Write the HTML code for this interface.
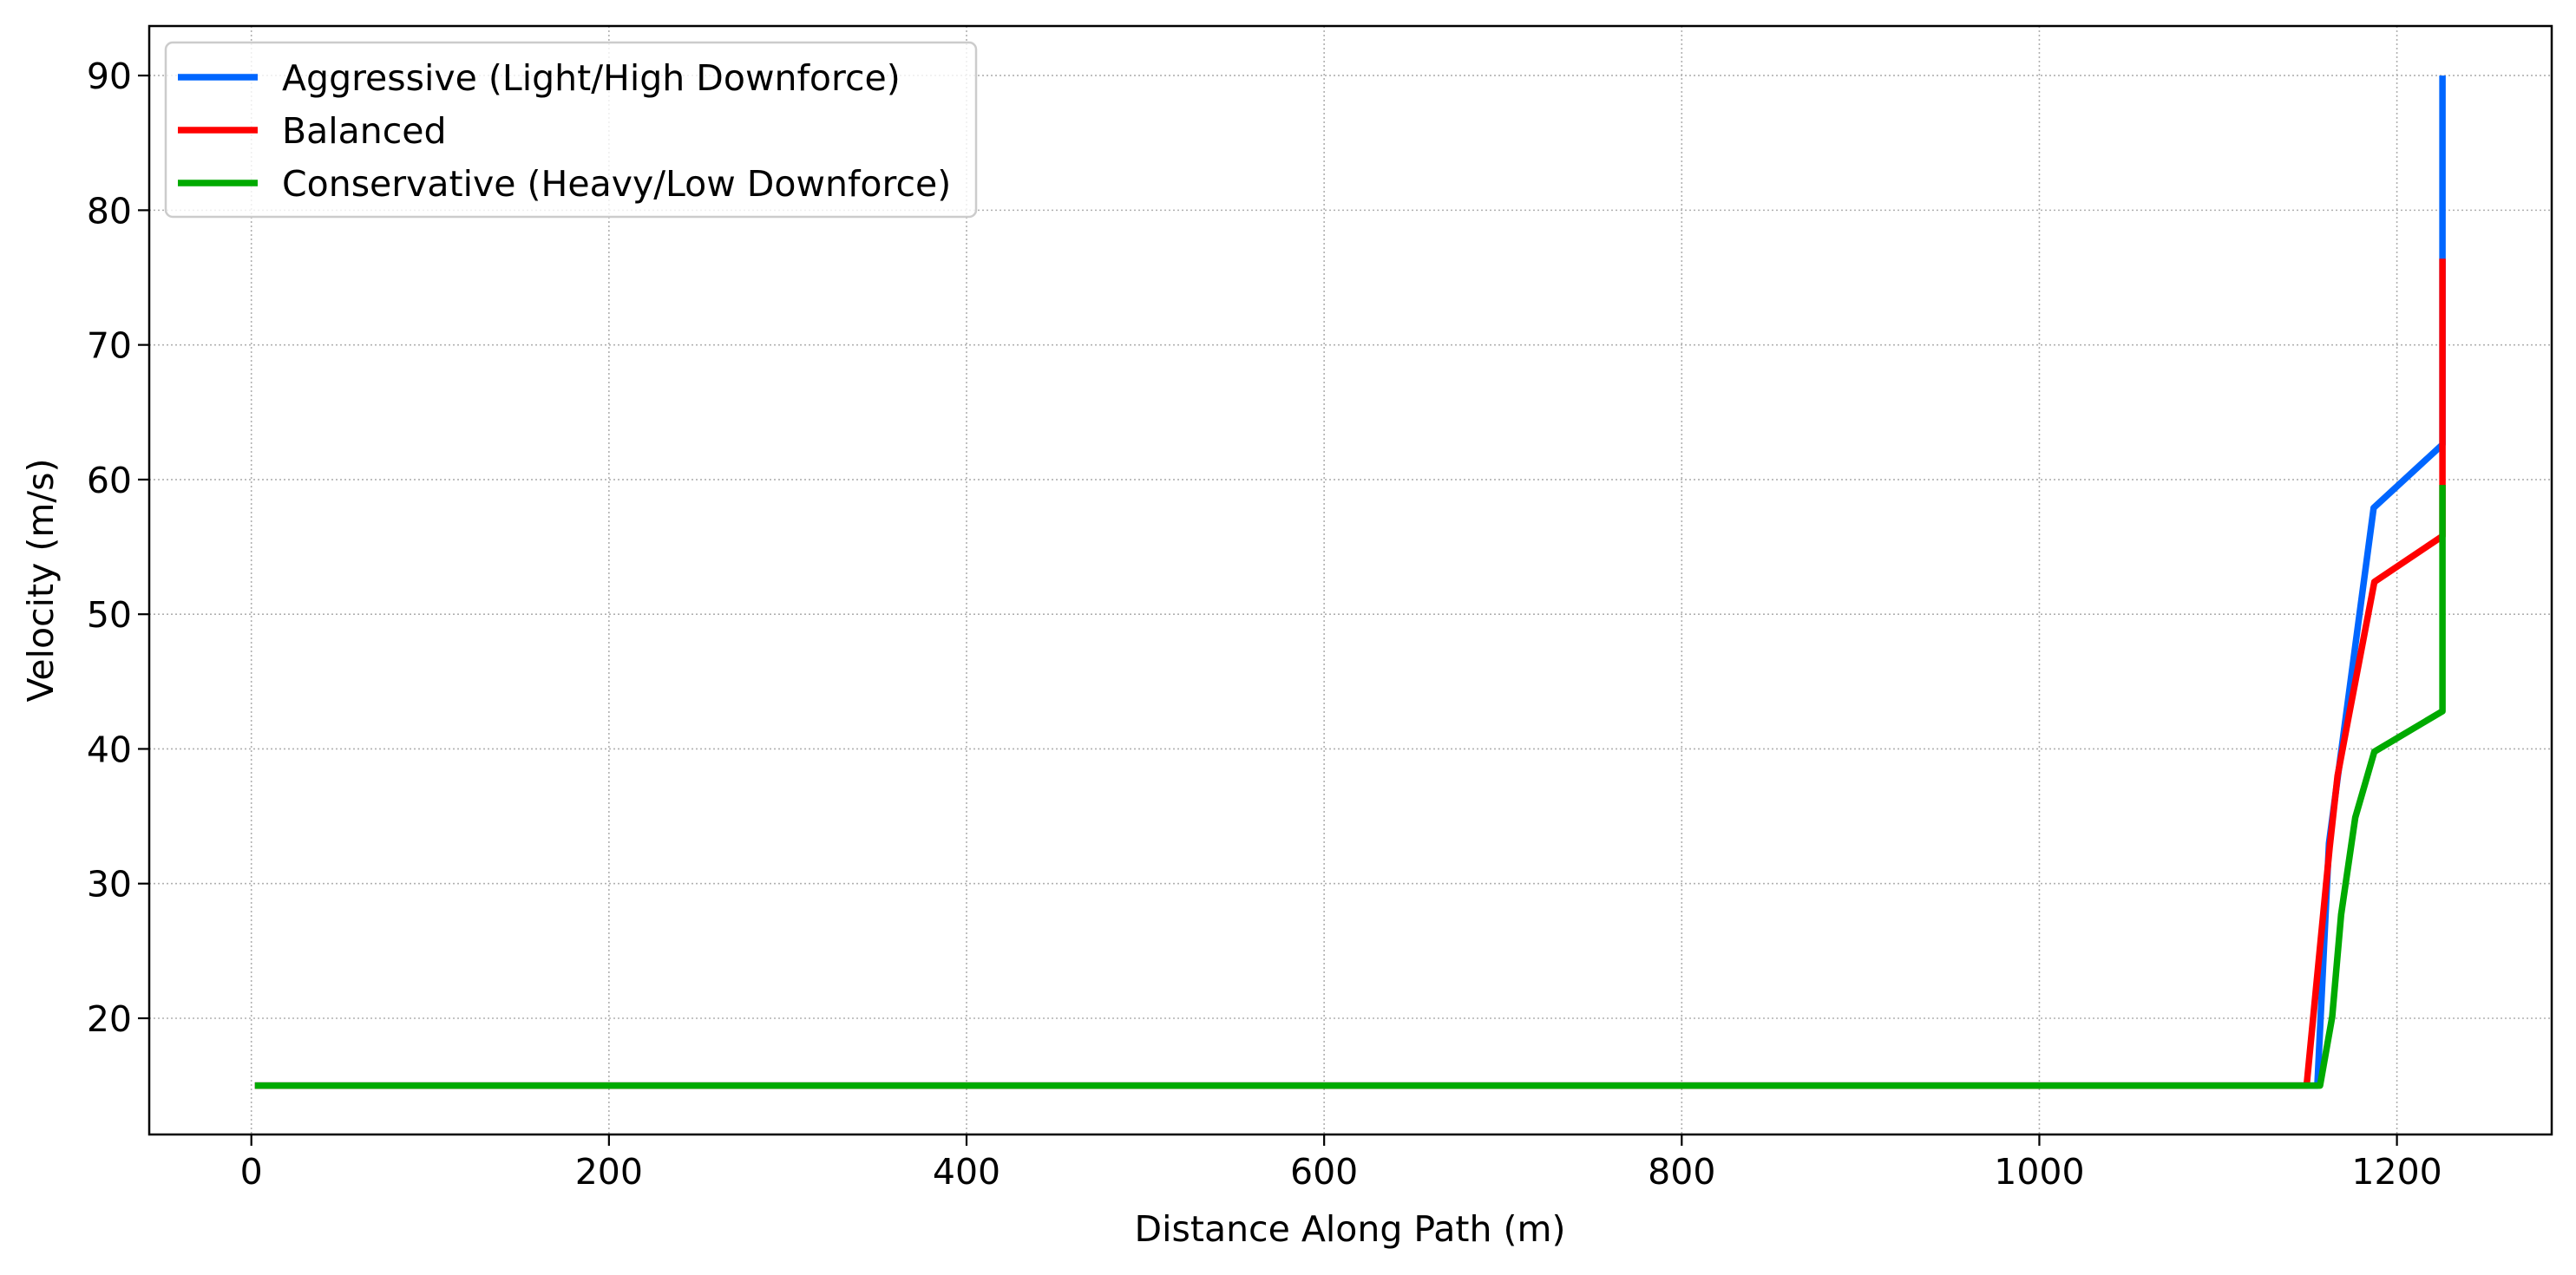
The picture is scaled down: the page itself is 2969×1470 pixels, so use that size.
<!DOCTYPE html>
<html><head><meta charset="utf-8">
<style>
html,body{margin:0;padding:0;background:#fff;}
svg{display:block;font-family:"DejaVu Sans","Liberation Sans",sans-serif;}
</style></head>
<body>
<svg id="chart" width="2969" height="1470" viewBox="0 0 2969 1470" xmlns="http://www.w3.org/2000/svg">
<rect width="2969" height="1470" fill="#fff"/>
<g id="grid"></g>
<g id="series"></g>
<rect x="172" y="30" width="2769" height="1278" fill="none" stroke="#000" stroke-width="2.5"/>
<g id="ticks"></g>
<text x="1556" y="1431" font-size="41" text-anchor="middle">Distance Along Path (m)</text>
<text transform="translate(61,669) rotate(-90)" font-size="41" text-anchor="middle">Velocity (m/s)</text>
<g>
<rect x="191" y="49" width="934" height="201" rx="8" fill="#fff" fill-opacity="0.8" stroke="#ccc" stroke-width="2.5"/>
<line x1="205" y1="89" x2="297" y2="89" stroke="#0066ff" stroke-width="7.5"/>
<text x="325" y="104" font-size="41">Aggressive (Light/High Downforce)</text>
<line x1="205" y1="150" x2="297" y2="150" stroke="#ff0000" stroke-width="7.5"/>
<text x="325" y="165" font-size="41">Balanced</text>
<line x1="205" y1="211" x2="297" y2="211" stroke="#00aa00" stroke-width="7.5"/>
<text x="325" y="226" font-size="41">Conservative (Heavy/Low Downforce)</text>
</g>
</svg>
<script>
const xTicks = [0, 200, 400, 600, 800, 1000, 1200];
const yTicks = [20, 30, 40, 50, 60, 70, 80, 90];
const aggressiveX = [2, 1155.5, 1162, 1187, 1225.5, 1225.5];
const aggressiveY = [15, 15, 33, 57.9, 62.6, 90];
const balancedX = [2, 1149.5, 1162.4, 1166.8, 1173, 1187.4, 1225.5, 1225.5];
const balancedY = [15, 15, 32.7, 38, 42.4, 52.4, 55.8, 76.4];
const conservativeX = [2, 1157, 1163.8, 1168.8, 1176.7, 1187.4, 1225.5, 1225.5];
const conservativeY = [15, 15, 20.1, 27.7, 34.9, 39.8, 42.8, 59.6];

const NS = "http://www.w3.org/2000/svg";
function xs(v){ return 289.7 + v * (2762.6 - 289.7) / 1200; }
function ys(v){ return 1174 - (v - 20) * (1174 - 87.1) / 70; }
const grid = document.getElementById('grid');
const ticks = document.getElementById('ticks');
const series = document.getElementById('series');
function mk(tag, attrs, parent){
  const e = document.createElementNS(NS, tag);
  for (const k in attrs) e.setAttribute(k, attrs[k]);
  parent.appendChild(e);
  return e;
}
xTicks.forEach(t => {
  const x = xs(t);
  const g = mk('line', {x1:x, y1:30, x2:x, y2:1308, stroke:'#b0b0b0', 'stroke-width':1.6, 'stroke-dasharray':'2,3'}, grid);
  
  
  const tk = mk('line', {x1:x, y1:1308, x2:x, y2:1321, stroke:'#000', 'stroke-width':2.2}, ticks);
  
  
  const tl = mk('text', {x:x, y:1365, 'font-size':41, 'text-anchor':'middle'}, ticks);
  tl.textContent = t;
  
  
});
yTicks.forEach(t => {
  const y = ys(t);
  const g = mk('line', {x1:172, y1:y, x2:2941, y2:y, stroke:'#b0b0b0', 'stroke-width':1.6, 'stroke-dasharray':'2,3'}, grid);
  
  
  const tk = mk('line', {x1:159, y1:y, x2:172, y2:y, stroke:'#000', 'stroke-width':2.2}, ticks);
  
  
  const tl = mk('text', {x:152, y:y + 15, 'font-size':41, 'text-anchor':'end'}, ticks);
  tl.textContent = t;
  
  
});
function drawLine(X, Y, color, name){
  const pts = X.map((v, i) => xs(v).toFixed(1) + ',' + ys(Y[i]).toFixed(1)).join(' ');
  const p = mk('polyline', {points:pts, fill:'none', stroke:color, 'stroke-width':7.5, 'stroke-linejoin':'round'}, series);
  
  
}
drawLine(aggressiveX, aggressiveY, '#0066ff', 'aggressive-line');
drawLine(balancedX, balancedY, '#ff0000', 'balanced-line');
drawLine(conservativeX, conservativeY, '#00aa00', 'conservative-line');
</script>
</body></html>
